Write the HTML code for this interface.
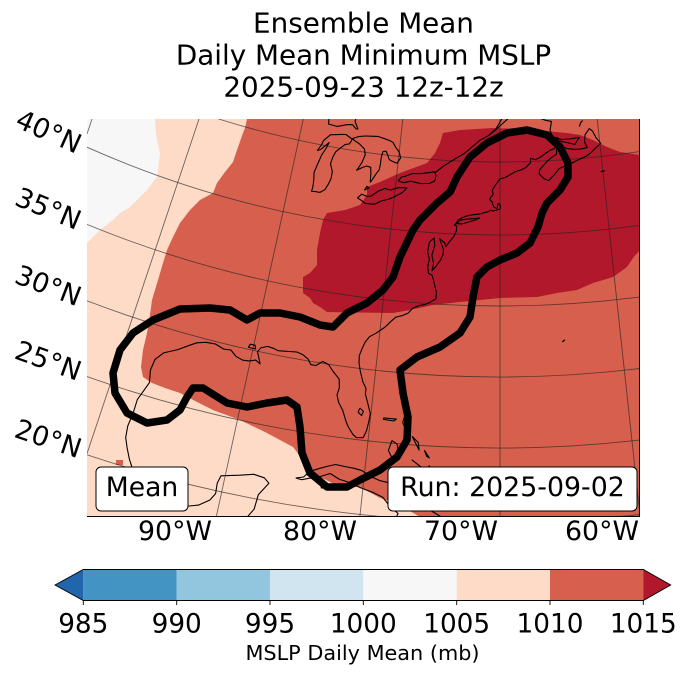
<!DOCTYPE html>
<html>
<head>
<meta charset="utf-8">
<style>
  html,body{margin:0;padding:0;background:#fff;width:688px;height:674px;overflow:hidden;}
  svg{display:block;position:absolute;left:0;top:0;}
  text{font-family:"DejaVu Sans","Liberation Sans",sans-serif;fill:#000;}
</style>
</head>
<body>
<svg width="688" height="674" viewBox="0 0 688 674" xmlns="http://www.w3.org/2000/svg" overflow="hidden">
  <defs>
    <clipPath id="mc"><rect x="87" y="119" width="553" height="398"/></clipPath>
  </defs>

  <text x="363.5" y="32.3" font-size="27.8" text-anchor="middle">Ensemble Mean</text>
  <text x="363.5" y="64.5" font-size="27.8" text-anchor="middle">Daily Mean Minimum MSLP</text>
  <text x="363.5" y="96.7" font-size="27.8" text-anchor="middle">2025-09-23 12z-12z</text>

  <g clip-path="url(#mc)">
    <rect x="87" y="119" width="553" height="398" fill="#d6604d"/>
    <path fill="#fddbc7" d="M87,119 L247,119 L245,128 L243,133 L237,150 L233,162 L225,172 L217,183 L213,193 L200,200 L190,210 L180,223 L173,237 L167,250 L163,263 L158,280 L152,300 L150,315 L147,333 L143,350 L141,367 L143,377 L152,383 L165,388 L180,393 L197,402 L213,410 L240,420 L267,433 L293,447 L303,460 L318,476 L340,487 L360,487 L380,498 L400,505 L420,517 L87,517 Z"/>
    <path fill="#f7f7f7" d="M87,119 L155,119 L156,135 L160,153 L158,170 L157,177 L147,190 L140,197 L130,207 L120,213 L113,220 L100,230 L93,237 L87,243 Z"/>
    <path fill="#b2182b" d="M360,205 L367,195 L367,187 L380,182 L400,173 L427,163 L435,153 L440,143 L443,133 L460,130 L493,128 L520,129 L545,131 L567,133 L580,135 L593,140 L607,147 L620,152 L640,155 L640,250 L633,258 L627,267 L613,277 L593,283 L577,290 L557,293 L537,297 L500,298 L460,302 L433,305 L410,310 L393,313 L327,312 L320,307 L313,303 L310,298 L303,293 L303,277 L310,273 L317,265 L317,250 L320,233 L323,220 L327,213 L345,210 Z"/>
    <rect x="116" y="460" width="7" height="5" fill="#d6604d"/>

    <g fill="none" stroke="#222" stroke-opacity="0.65" stroke-width="0.9">
      <path d="M218.6,119 A942,942 0 0 0 640,151.5"/>
      <path d="M87,147.2 A1015,1015 0 0 0 640,225.3"/>
      <path d="M87,224.4 A1086,1086 0 0 0 640,296.9"/>
      <path d="M87,300.8 A1157,1157 0 0 0 640,368.5"/>
      <path d="M87,376.5 A1228,1228 0 0 0 640,440"/>
      <path d="M87,454.8 A1302,1302 0 0 0 386,517"/>
      <path d="M614,517 A1302,1302 0 0 0 640,514.5"/>
      <line x1="92" y1="119" x2="87" y2="134"/>
      <line x1="199" y1="119" x2="87" y2="453.6"/>
      <line x1="303.3" y1="119" x2="216.2" y2="517"/>
      <line x1="402.8" y1="119" x2="359.8" y2="517"/>
      <line x1="500" y1="119" x2="500" y2="517"/>
      <line x1="597.2" y1="119" x2="640" y2="515"/>
    </g>

    <g id="coast" fill="none" stroke="#000" stroke-width="1.1" stroke-linejoin="round"></g>

    <path fill="none" stroke="#000" stroke-width="7.5" stroke-linejoin="round" stroke-linecap="round"
      d="M153,320 L180,309 L210,308 L230,310 L247,320 L260,313 L280,313 L300,317 L320,325 L333,327 L347,313 L367,303 L383,290 L393,277 L400,257 L413,230 L420,220 L437,203 L450,192 L457,177 L470,157 L487,143 L507,133 L527,130 L547,135 L560,147 L568,163 L568,177 L560,190 L547,203 L542,213 L538,227 L530,243 L517,253 L500,260 L487,267 L477,277 L473,297 L470,317 L460,333 L440,347 L417,357 L400,370 L403,393 L408,417 L407,440 L397,457 L380,470 L360,480 L347,487 L327,487 L310,473 L302,453 L300,427 L297,407 L287,400 L267,403 L247,407 L227,403 L203,388 L193,388 L187,397 L180,410 L167,420 L147,423 L127,413 L115,393 L113,373 L120,350 L133,333 Z"/>
  </g>

  <line x1="639.5" y1="119" x2="639.5" y2="517" stroke="#000" stroke-width="1"/>
  <line x1="87" y1="516.5" x2="640" y2="516.5" stroke="#000" stroke-width="1"/>

  <rect x="96" y="467" width="92" height="44" rx="5" ry="5" fill="#fff" stroke="#000" stroke-width="1"/>
  <text x="142" y="496" font-size="26.6" text-anchor="middle">Mean</text>
  <rect x="388" y="467" width="249" height="44" rx="5" ry="5" fill="#fff" stroke="#000" stroke-width="1"/>
  <text x="512.5" y="496" font-size="26.8" text-anchor="middle">Run: 2025-09-02</text>

  <g font-size="27">
    <text transform="translate(49,131) rotate(24)" x="0" y="10" text-anchor="middle">40°N</text>
    <text transform="translate(48.5,208) rotate(22.3)" x="0" y="10" text-anchor="middle">35°N</text>
    <text transform="translate(48.5,285) rotate(20.9)" x="0" y="10" text-anchor="middle">30°N</text>
    <text transform="translate(48.5,360) rotate(19.7)" x="0" y="10" text-anchor="middle">25°N</text>
    <text transform="translate(48.5,438) rotate(18.5)" x="0" y="10" text-anchor="middle">20°N</text>
  </g>
  <g font-size="26.8" text-anchor="middle">
    <text x="175" y="540">90°W</text>
    <text x="320" y="540">80°W</text>
    <text x="461" y="540">70°W</text>
    <text x="602" y="540">60°W</text>
  </g>

  <polygon points="55,585 83.3,569.5 83.3,600.5" fill="#2166ac"/>
  <rect x="83.3" y="569.5" width="93.4" height="31" fill="#4393c3"/>
  <rect x="176.7" y="569.5" width="93.4" height="31" fill="#92c5de"/>
  <rect x="270" y="569.5" width="93.4" height="31" fill="#d1e5f0"/>
  <rect x="363.3" y="569.5" width="93.4" height="31" fill="#f7f7f7"/>
  <rect x="456.7" y="569.5" width="93.4" height="31" fill="#fddbc7"/>
  <rect x="550" y="569.5" width="93.4" height="31" fill="#d6604d"/>
  <polygon points="643.3,569.5 670.7,585 643.3,600.5" fill="#b2182b"/>
  <path d="M55,585 L83.3,569.5 L643.3,569.5 L670.7,585 L643.3,600.5 L83.3,600.5 Z" fill="none" stroke="#000" stroke-width="0.9"/>
  <g stroke="#000" stroke-width="0.9">
    <line x1="83.3" y1="600.5" x2="83.3" y2="605"/>
    <line x1="176.7" y1="600.5" x2="176.7" y2="605"/>
    <line x1="270" y1="600.5" x2="270" y2="605"/>
    <line x1="363.3" y1="600.5" x2="363.3" y2="605"/>
    <line x1="456.7" y1="600.5" x2="456.7" y2="605"/>
    <line x1="550" y1="600.5" x2="550" y2="605"/>
    <line x1="643.3" y1="600.5" x2="643.3" y2="605"/>
  </g>
  <g font-size="26.3" text-anchor="middle">
    <text x="83.3" y="632.7">985</text>
    <text x="176.7" y="632.7">990</text>
    <text x="270" y="632.7">995</text>
    <text x="363.3" y="632.7">1000</text>
    <text x="456.7" y="632.7">1005</text>
    <text x="550" y="632.7">1010</text>
    <text x="643.3" y="632.7">1015</text>
  </g>
  <text x="362.5" y="660" font-size="20.8" text-anchor="middle">MSLP Daily Mean (mb)</text>
</svg>
<script>
(function(){
  var n=0.617, F=1622.2;
  function P(lon,lat){
    var R=F*Math.pow(Math.tan(Math.PI/4 - lat*Math.PI/360), n);
    var t=n*(lon+70)*Math.PI/180;
    var x=500+R*Math.sin(t), y=-780+R*Math.cos(t);
    x=Math.max(80,Math.min(660,x)); y=Math.max(100,Math.min(530,y));
    return [x.toFixed(1), y.toFixed(1)];
  }
  var C=[
   [[-88.0,18.5],[-87.5,19.3],[-87.4,20.3],[-86.8,21.2],[-87.2,21.5],[-88.0,21.6],[-89.0,21.35],[-90.3,21.05],[-90.45,20.5],[-90.4,19.8],[-90.7,19.3],[-91.4,18.8],[-92.0,18.6],[-93.0,18.4],[-94.2,18.2],[-94.8,18.5],[-95.6,18.8],[-96.3,19.3],[-96.5,19.9],[-97.0,20.6],[-97.4,21.3],[-97.7,21.9],[-97.8,22.7],[-97.7,23.6],[-97.7,24.6],[-97.4,25.4],[-97.2,25.95],[-97.4,26.8],[-97.3,27.6],[-96.8,28.2],[-95.8,28.7],[-95.0,29.2],[-94.5,29.5],[-93.8,29.7],[-93.0,29.75],[-92.3,29.55],[-91.7,29.6],[-91.2,29.25],[-90.6,29.1],[-90.1,29.15],[-89.6,29.3],[-89.2,29.1],[-89.4,29.5],[-89.6,29.9],[-89.4,30.2],[-88.9,30.4],[-88.4,30.35],[-88.0,30.25],[-87.5,30.3],[-86.5,30.4],[-86.0,30.3],[-85.5,30.05],[-85.2,29.7],[-84.8,29.7],[-84.3,30.05],[-83.8,29.9],[-83.4,29.5],[-82.8,29.0],[-82.7,28.4],[-82.8,27.9],[-82.6,27.4],[-82.2,26.9],[-82.0,26.5],[-81.8,26.1],[-81.6,25.8],[-81.2,25.35],[-80.9,25.15],[-80.4,25.2],[-80.2,25.7],[-80.1,26.3],[-80.05,26.9],[-80.3,27.5],[-80.6,28.2],[-80.6,28.6],[-80.9,29.0],[-81.2,29.7],[-81.4,30.3],[-81.45,30.8],[-81.3,31.3],[-81.1,31.8],[-80.8,32.2],[-80.3,32.5],[-79.6,33.0],[-79.2,33.4],[-78.8,33.75],[-78.3,33.9],[-77.8,34.1],[-77.4,34.5],[-76.9,34.7],[-76.4,34.8],[-76.0,35.0],[-75.5,35.25],[-75.5,35.7],[-75.8,36.5],[-75.98,36.9],[-76.3,37.0],[-76.4,37.5],[-76.3,38.0],[-76.5,38.5],[-76.4,39.2],[-76.0,39.5],[-75.9,39.0],[-76.1,38.3],[-75.9,37.7],[-76.0,37.2],[-75.7,37.5],[-75.3,38.0],[-75.1,38.4],[-75.1,38.8],[-75.3,39.1],[-75.5,39.5],[-75.0,39.2],[-74.9,38.95],[-74.6,39.3],[-74.2,39.7],[-74.0,40.1],[-74.0,40.45],[-74.2,40.5],[-74.0,40.7],[-73.9,40.85],[-73.7,40.95],[-73.2,41.15],[-72.5,41.27],[-71.9,41.32],[-71.4,41.45],[-71.1,41.5],[-70.9,41.6],[-70.65,41.55],[-70.0,41.68],[-69.95,41.9],[-70.05,42.05],[-70.2,42.08],[-70.25,41.75],[-70.55,41.8],[-70.65,41.95],[-70.75,42.2],[-71.0,42.35],[-70.85,42.55],[-70.65,42.7],[-70.75,43.0],[-70.4,43.4],[-70.0,43.8],[-69.5,43.9],[-69.0,44.1],[-68.5,44.3],[-68.0,44.4],[-67.5,44.55],[-67.0,44.9],[-66.98,45.2],[-66.5,45.1],[-66.0,45.25],[-65.5,45.5],[-65.0,45.7],[-64.6,45.8],[-64.3,46.0],[-63.8,46.1],[-64.5,46.3],[-64.7,46.7],[-64.9,47.1],[-64.7,47.7],[-65.3,47.8],[-65.8,47.95],[-66.4,48.05],[-65.5,48.3],[-64.7,48.3],[-64.2,48.8],[-64.5,49.1],[-65.5,49.25],[-66.5,49.1],[-67.5,48.8],[-68.5,48.35],[-69.5,47.8],[-70.3,47.3],[-71.0,46.9],[-71.2,46.8]],
   [[-71.2,46.8],[-70.4,47.3],[-69.7,48.1],[-69.0,48.5],[-68.4,49.0],[-67.5,49.3],[-66.5,50.2]],
   [[-76.3,44.1],[-75.5,44.6],[-74.5,45.1],[-73.6,45.5],[-72.8,46.0],[-72.0,46.5],[-71.2,46.8]],
   [[-74.0,40.6],[-73.5,40.6],[-72.5,40.85],[-71.9,41.05],[-72.4,41.0],[-73.0,40.95],[-73.7,40.85],[-74.0,40.6]],
   [[-87.8,41.65],[-87.5,41.7],[-87.0,41.7],[-86.6,41.95],[-86.4,42.3],[-86.2,42.8],[-86.2,43.3],[-86.5,43.8],[-86.4,44.3],[-86.2,44.7],[-85.7,45.1],[-85.4,45.3],[-85.0,45.4],[-84.8,45.75],[-85.5,46.0],[-86.0,45.95],[-86.6,45.85],[-87.0,45.8],[-87.6,45.3],[-87.7,45.0],[-88.0,44.55],[-87.7,44.65],[-87.3,45.0],[-87.0,45.25],[-87.2,44.8],[-87.5,44.3],[-87.7,43.7],[-87.9,43.0],[-87.8,42.5],[-87.75,42.0],[-87.8,41.65]],
   [[-82.45,42.95],[-82.5,43.6],[-82.6,44.0],[-83.0,44.05],[-83.4,43.9],[-83.9,43.65],[-83.5,44.25],[-83.3,44.8],[-83.45,45.2],[-84.0,45.5],[-84.6,45.7],[-84.8,45.8],[-84.2,46.0],[-83.6,46.1],[-83.0,46.15],[-82.3,46.2],[-81.6,46.1],[-81.0,46.0],[-80.7,45.9],[-80.4,45.6],[-80.0,45.3],[-79.8,44.9],[-80.1,44.5],[-80.6,44.6],[-80.9,44.7],[-81.1,45.0],[-81.3,45.25],[-81.6,45.2],[-81.7,44.8],[-81.7,44.3],[-81.75,43.9],[-82.0,43.6],[-82.25,43.2],[-82.45,42.95]],
   [[-83.45,41.75],[-83.0,41.6],[-82.7,41.45],[-82.0,41.45],[-81.7,41.5],[-81.2,41.75],[-80.5,41.95],[-80.0,42.15],[-79.3,42.5],[-78.9,42.85],[-79.3,42.85],[-79.8,42.8],[-80.4,42.6],[-81.0,42.65],[-81.6,42.4],[-82.2,42.0],[-82.6,41.95],[-83.1,42.05],[-83.45,41.75]],
   [[-79.8,43.3],[-79.3,43.2],[-78.6,43.35],[-77.6,43.25],[-76.8,43.3],[-76.3,43.5],[-76.2,43.9],[-76.4,44.15],[-76.9,44.05],[-77.3,44.0],[-77.6,43.95],[-78.5,43.9],[-79.2,43.65],[-79.5,43.6],[-79.8,43.3]],
   [[-92.0,46.7],[-91.0,46.9],[-90.5,46.6],[-89.5,46.9],[-88.5,47.0],[-88.0,47.4],[-87.5,47.0],[-87.4,46.5],[-86.5,46.45],[-85.5,46.7],[-85.0,46.75],[-84.6,46.5],[-84.4,46.5],[-84.8,47.0],[-84.7,47.6],[-85.0,48.2]],
   [[-82.9,42.35],[-82.5,42.55],[-82.7,42.65],[-82.9,42.35]],
   [[-65.75,43.75],[-65.3,43.6],[-64.7,44.0],[-64.2,44.4],[-63.6,44.55],[-63.0,44.7],[-62.3,44.9],[-61.5,45.1],[-61.0,45.3],[-60.5,45.6],[-59.9,45.9],[-60.3,46.3],[-60.6,46.8],[-60.9,47.0],[-61.4,46.6],[-61.5,46.1],[-61.3,45.7],[-61.9,45.65],[-62.5,45.65],[-63.3,45.75],[-63.8,45.95],[-64.3,46.0],[-64.4,45.4],[-64.9,45.2],[-65.5,44.85],[-66.1,44.4],[-66.2,44.1],[-65.75,43.75]],
   [[-64.4,46.6],[-63.8,46.4],[-63.0,46.4],[-62.0,46.45],[-62.5,46.0],[-63.2,46.15],[-64.0,46.3],[-64.4,46.6]],
   [[-59.3,47.6],[-58.5,47.65],[-57.5,47.62],[-56.5,47.6],[-55.9,47.5],[-55.5,47.1],[-55.0,46.9],[-54.5,47.3]],
   [[-61.9,47.2],[-61.7,47.5],[-61.5,47.6]],
   [[-60.2,43.93],[-59.8,43.97]],
   [[-84.95,21.85],[-84.4,22.0],[-84.0,22.45],[-83.3,22.75],[-82.8,22.95],[-82.2,23.15],[-81.5,23.1],[-80.8,23.05],[-80.2,22.95],[-79.5,22.6],[-78.8,22.4],[-78.0,22.3],[-77.3,21.85],[-76.5,21.25],[-75.7,21.1],[-75.1,20.7],[-74.2,20.25],[-74.5,20.05],[-75.5,19.9],[-76.5,19.95],[-77.5,19.85],[-77.3,20.3],[-77.9,20.7],[-78.5,21.3],[-79.2,21.55],[-80.2,21.8],[-81.0,22.05],[-81.8,22.2],[-82.5,22.5],[-83.2,22.2],[-83.9,22.0],[-84.5,21.8],[-84.95,21.85]],
   [[-83.1,21.9],[-82.6,21.8],[-82.6,21.5],[-83.0,21.45],[-83.1,21.9]],
   [[-79.0,26.7],[-78.0,26.7],[-78.2,26.55],[-79.0,26.6],[-79.0,26.7]],
   [[-77.4,26.9],[-77.0,26.4],[-77.2,26.0],[-77.5,26.5],[-77.4,26.9]],
   [[-78.2,25.2],[-77.8,25.0],[-77.6,24.3],[-78.0,23.9],[-78.4,24.5],[-78.2,25.2]],
   [[-76.7,25.6],[-76.2,25.2],[-76.1,24.7],[-76.3,25.0],[-76.7,25.6]],
   [[-75.7,24.7],[-75.3,24.2],[-75.5,24.3],[-75.7,24.7]],
   [[-76.6,24.0],[-75.8,23.5]],
   [[-75.3,23.7],[-74.9,23.1]],
   [[-73.7,21.1],[-73.1,21.2],[-73.2,20.95],[-73.7,21.1]],
   [[-64.85,32.25],[-64.65,32.38],[-64.75,32.3],[-64.85,32.25]],
   [[-80.9,27.2],[-80.6,27.0],[-80.7,26.7],[-81.0,26.9],[-80.9,27.2]],
   [[-90.4,30.05],[-89.8,30.05],[-89.9,30.3],[-90.3,30.3],[-90.4,30.05]]
  ];
  var g=document.getElementById('coast');
  var ns='http://www.w3.org/2000/svg';
  for(var i=0;i<C.length;i++){
    var pts=C[i], d='';
    for(var j=0;j<pts.length;j++){
      var q=P(pts[j][0],pts[j][1]);
      d+=(j?'L':'M')+q[0]+','+q[1];
    }
    var p=document.createElementNS(ns,'path');
    p.setAttribute('d',d);
    g.appendChild(p);
  }
})();
</script>
</body>
</html>
